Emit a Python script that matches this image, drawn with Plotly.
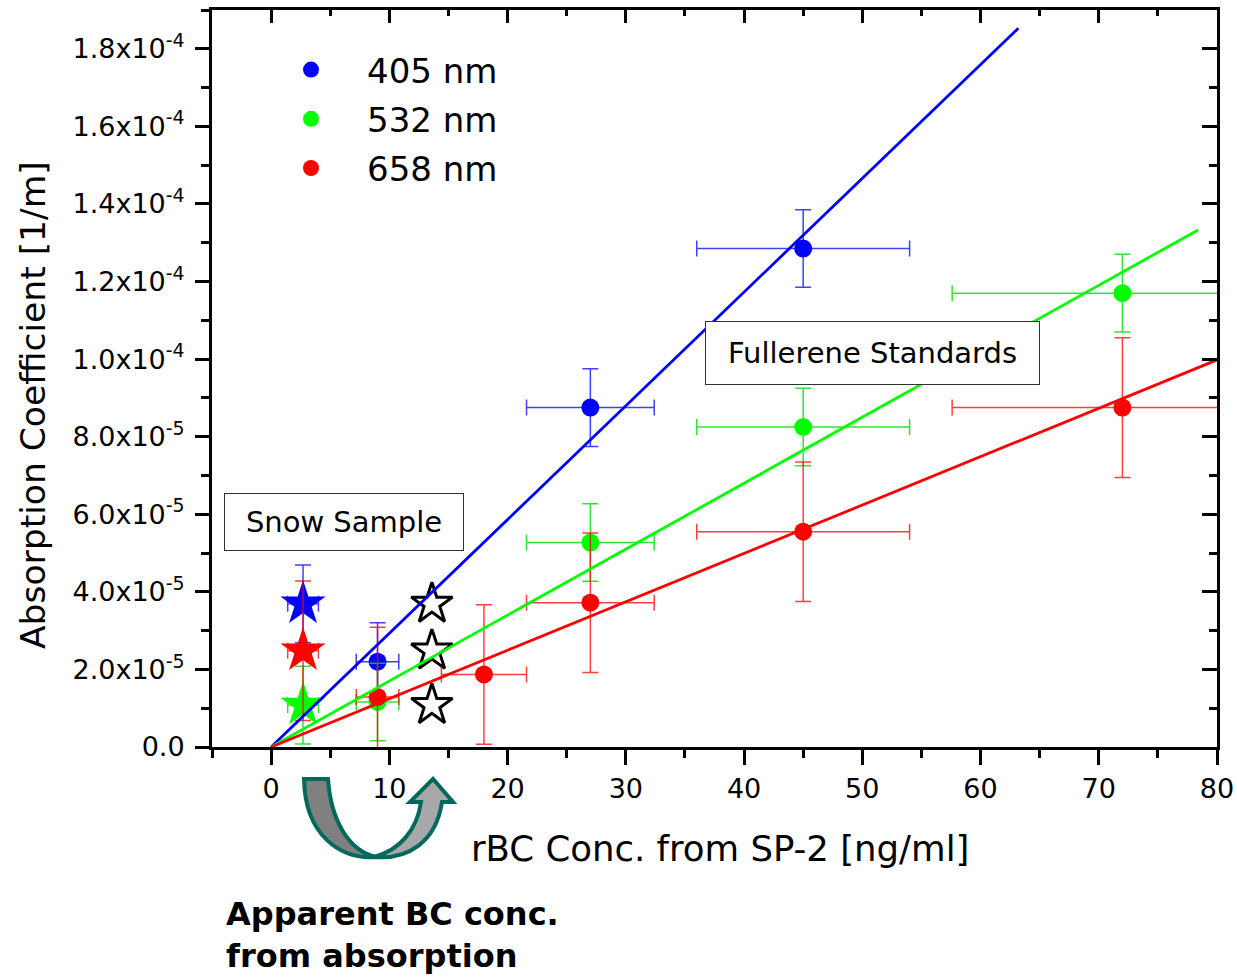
import plotly.graph_objects as go

# ---------------- data ----------------
# Fullerene standards, rBC conc. [ng/ml] vs absorption coefficient [1/m]
x_405 = [9, 27, 45]
y_405 = [2.2e-5, 8.75e-5, 1.285e-4]
xerr_405 = [1.8, 5.4, 9.0]
yerr_405 = [1.0e-5, 1.0e-5, 1.0e-5]

x_532 = [9, 27, 45, 72]
y_532 = [1.16e-5, 5.27e-5, 8.25e-5, 1.17e-4]
xerr_532 = [1.8, 5.4, 9.0, 14.4]
yerr_532 = [1.0e-5, 1.0e-5, 1.0e-5, 1.0e-5]

x_658 = [9, 18, 27, 45, 72]
y_658 = [1.29e-5, 1.87e-5, 3.72e-5, 5.55e-5, 8.75e-5]
xerr_658 = [1.8, 3.6, 5.4, 9.0, 14.4]
yerr_658 = [1.8e-5, 1.8e-5, 1.8e-5, 1.8e-5, 1.8e-5]

# linear fits through the origin (end points)
fit_x_405 = [0, 63.2]
fit_y_405 = [0, 1.853e-4]
fit_x_532 = [0, 78.4]
fit_y_532 = [0, 1.333e-4]
fit_x_658 = [0, 80.0]
fit_y_658 = [0, 9.98e-5]

# snow sample (filled stars) and apparent BC conc. (open stars)
snow_x = 2.7
apparent_x = 13.6
snow_y = {"405": 3.69e-5, "532": 1.08e-5, "658": 2.48e-5}
snow_yerr = {"405": 1.0e-5, "532": 1.0e-5, "658": 1.8e-5}
snow_xerr = 1.3

# axis ticks
x_ticks = [0, 10, 20, 30, 40, 50, 60, 70, 80]
y_ticks = [0, 2e-5, 4e-5, 6e-5, 8e-5, 1.0e-4, 1.2e-4, 1.4e-4, 1.6e-4, 1.8e-4]
y_ticktext = ["0.0", "2.0x10<sup>-5</sup>", "4.0x10<sup>-5</sup>", "6.0x10<sup>-5</sup>",
              "8.0x10<sup>-5</sup>", "1.0x10<sup>-4</sup>", "1.2x10<sup>-4</sup>",
              "1.4x10<sup>-4</sup>", "1.6x10<sup>-4</sup>", "1.8x10<sup>-4</sup>"]

# ---------------- styling ----------------
W, H = 1237, 978
ML, MR, MT, MB = 212, 20, 10, 231
FONT = "DejaVu Sans, Liberation Sans, Arial, sans-serif"
COL = {"405": "#0000ff", "532": "#00ff00", "658": "#ff0000"}
ERRCOL = {"405": "rgba(0,0,255,0.75)", "532": "rgba(0,220,0,0.8)", "658": "rgba(255,0,0,0.75)"}


def px(xp):
    return (xp - ML) / (W - ML - MR)


def py(yp):
    return (H - MB - yp) / (H - MT - MB)


fig = go.Figure()

# snow sample stars
for key in ["405", "532", "658"]:
    fig.add_trace(go.Scatter(
        x=[snow_x], y=[snow_y[key]], mode="markers", showlegend=False,
        marker=dict(symbol="star", size=34, color=COL[key]),
        error_y=dict(type="data", array=[snow_yerr[key]], color=ERRCOL[key], thickness=1.5, width=8),
        error_x=dict(type="data", array=[snow_xerr], color=ERRCOL[key], thickness=1.5, width=8),
    ))

# open stars (apparent BC)
fig.add_trace(go.Scatter(
    x=[apparent_x] * 3, y=[snow_y["405"], snow_y["658"], snow_y["532"]],
    mode="markers", showlegend=False,
    marker=dict(symbol="star", size=31, color="white", line=dict(color="black", width=3)),
))

# fullerene standards
series = [("405", x_405, y_405, xerr_405, yerr_405),
          ("532", x_532, y_532, xerr_532, yerr_532),
          ("658", x_658, y_658, xerr_658, yerr_658)]
for key, xs, ys, xe, ye in series:
    fig.add_trace(go.Scatter(
        x=xs, y=ys, mode="markers", name=f"{key} nm", legendgroup=key,
        marker=dict(symbol="circle", size=18, color=COL[key]),
        error_y=dict(type="data", array=ye, color=ERRCOL[key], thickness=1.5, width=8),
        error_x=dict(type="data", array=xe, color=ERRCOL[key], thickness=1.5, width=8),
    ))

# fit lines
for key, fx, fy in [("405", fit_x_405, fit_y_405), ("532", fit_x_532, fit_y_532),
                    ("658", fit_x_658, fit_y_658)]:
    fig.add_trace(go.Scatter(x=fx, y=fy, mode="lines", showlegend=False,
                             line=dict(color=COL[key], width=2.8)))

# helper trace for the mirrored (inside-tick) axes
fig.add_trace(go.Scatter(x=[None], y=[None], xaxis="x2", yaxis="y2", showlegend=False,
                         hoverinfo="skip"))

axis_common = dict(showgrid=False, zeroline=False, showline=True, linecolor="black",
                   linewidth=3, tickcolor="black", tickwidth=2.5, automargin=False)

fig.update_layout(
    width=W, height=H,
    margin=dict(l=ML, r=MR, t=MT, b=MB),
    paper_bgcolor="white", plot_bgcolor="white",
    font=dict(family=FONT, color="black"),
    xaxis=dict(range=[-5, 80], tickvals=x_ticks, ticks="outside", ticklen=15,
               tickfont=dict(size=27), mirror=True, ticklabelstandoff=1,
               minor=dict(dtick=5, tick0=0, ticks="outside", ticklen=8, tickwidth=2.5,
                          tickcolor="black"),
               **axis_common),
    yaxis=dict(range=[0, 1.9e-4], tickvals=y_ticks, ticktext=y_ticktext, ticks="outside",
               ticklen=14, tickfont=dict(size=27), mirror=True, ticklabelstandoff=5,
               minor=dict(dtick=1e-5, tick0=0, ticks="outside", ticklen=8, tickwidth=2.5,
                          tickcolor="black"),
               **axis_common),
    xaxis2=dict(range=[-5, 80], overlaying="x", side="top", tickvals=x_ticks,
                ticks="inside", ticklen=13, showticklabels=False, showgrid=False,
                zeroline=False, showline=False, tickcolor="black", tickwidth=2.5,
                automargin=False,
                minor=dict(dtick=5, tick0=0, ticks="inside", ticklen=6, tickwidth=2.5,
                           tickcolor="black")),
    yaxis2=dict(range=[0, 1.9e-4], overlaying="y", side="right", tickvals=y_ticks,
                ticks="inside", ticklen=15, showticklabels=False, showgrid=False,
                zeroline=False, showline=False, tickcolor="black", tickwidth=2.5,
                automargin=False,
                minor=dict(dtick=1e-5, tick0=0, ticks="inside", ticklen=8, tickwidth=2.5,
                           tickcolor="black")),
    legend=dict(x=px(255), y=py(41), xanchor="left", yanchor="top",
                font=dict(size=34, family=FONT), itemwidth=102, tracegroupgap=2,
                bgcolor="rgba(0,0,0,0)", borderwidth=0),
    showlegend=True,
)

# axis titles
fig.add_annotation(text="rBC Conc. from SP-2 [ng/ml]", xref="paper", yref="paper",
                   x=px(720), y=py(848), showarrow=False, font=dict(size=35.5, family=FONT),
                   xanchor="center", yanchor="middle")
fig.add_annotation(text="Absorption Coefficient [1/m]", xref="paper", yref="paper",
                   x=px(33), y=py(405), showarrow=False, textangle=-90,
                   font=dict(size=34.5, family=FONT), xanchor="center", yanchor="middle")

# boxed labels
fig.add_annotation(text="Snow Sample", x=6.17, y=5.8e-5, xref="x", yref="y",
                   showarrow=False, font=dict(size=29, family=FONT), bgcolor="white",
                   bordercolor="#333333", borderwidth=1, width=236, height=54)
fig.add_annotation(text="Fullerene Standards", x=50.9, y=1.016e-4, xref="x", yref="y",
                   showarrow=False, font=dict(size=29, family=FONT), bgcolor="white",
                   bordercolor="#333333", borderwidth=1, width=331, height=60)

# bold note
fig.add_annotation(text="<b>Apparent BC conc.<br>from absorption</b>", xref="paper",
                   yref="paper", x=px(224), y=py(935), xanchor="left", yanchor="middle",
                   align="left", showarrow=False, font=dict(size=32, family=FONT))

# curved arrow (decoration)


def path(points_cmds):
    out = []
    for cmd, pts in points_cmds:
        coords = " ".join(f"{px(a):.5f},{py(b):.5f}" for a, b in pts)
        out.append(f"{cmd} {coords}" if pts else cmd)
    return " ".join(out)


left_arm = path([
    ("M", [(304, 779)]), ("L", [(328, 779)]),
    ("C", [(331, 822), (350, 852), (377, 857)]),
    ("C", [(340, 860), (305, 835), (304, 779)]), ("Z", []),
])
right_arm = path([
    ("M", [(374, 857)]),
    ("C", [(400, 850), (417, 830), (421, 802)]),
    ("L", [(410, 802)]), ("L", [(433, 779)]), ("L", [(453, 802)]), ("L", [(442, 802)]),
    ("C", [(436, 842), (408, 860), (374, 857)]), ("Z", []),
])
fig.add_shape(type="path", path=left_arm, xref="paper", yref="paper",
              fillcolor="#808080", line=dict(color="#00695c", width=4), layer="above")
fig.add_shape(type="path", path=right_arm, xref="paper", yref="paper",
              fillcolor="#a8a8a8", line=dict(color="#00695c", width=4), layer="above")

fig.write_html("out.html")
